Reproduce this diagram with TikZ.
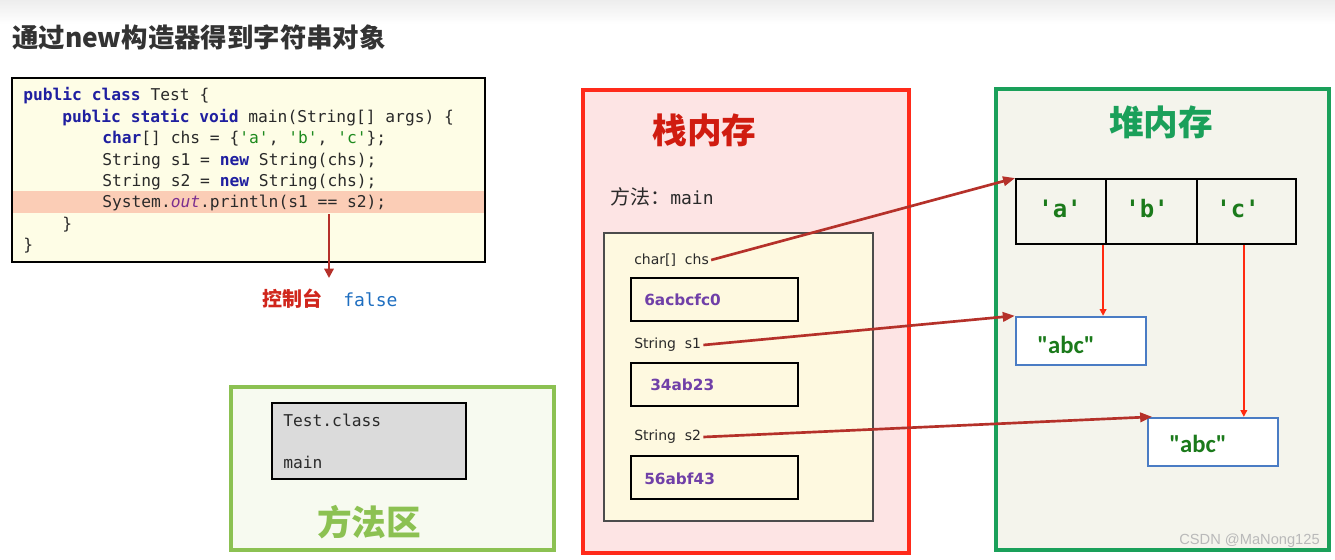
\documentclass[tikz,border=0pt]{standalone}
\usepackage{fontspec}
\setmainfont{DejaVu Sans}
\newfontfamily\cjk{Noto Sans CJK SC}
\newfontfamily\codefont{DejaVu Sans Mono}[Ligatures=TeXOff]
\newfontfamily\carlito{Carlito}[Ligatures=TeXOff]
\newfontfamily\wmfont{Liberation Sans}
\usetikzlibrary{arrows.meta}
\definecolor{titlegray}{HTML}{333333}
\definecolor{codebg}{HTML}{FEFDE6}
\definecolor{hlcol}{HTML}{FBCDB6}
\definecolor{kwblue}{HTML}{1F1FA0}
\definecolor{chgreen}{HTML}{1E8A1E}
\definecolor{outpurple}{HTML}{7B2F8F}
\definecolor{codetext}{HTML}{2A2A2A}
\definecolor{arrowred}{HTML}{B5312A}
\definecolor{consred}{HTML}{D0261C}
\definecolor{falseblue}{HTML}{1E6EC0}
\definecolor{methodgreen}{HTML}{8CC152}
\definecolor{methodbg}{HTML}{F7FAF0}
\definecolor{stackred}{HTML}{FF2A1A}
\definecolor{stackbg}{HTML}{FDE4E4}
\definecolor{stacktitle}{HTML}{D01C10}
\definecolor{framebg}{HTML}{FEF9E0}
\definecolor{addrpurple}{HTML}{7040A8}
\definecolor{heapgreen}{HTML}{1AA05A}
\definecolor{heapbg}{HTML}{F4F4EC}
\definecolor{valgreen}{HTML}{1B7A1B}
\definecolor{objblue}{HTML}{4A7CC4}
\definecolor{thinred}{HTML}{FF2A10}
\newcommand{\kw}[1]{\textcolor{kwblue}{\bfseries #1}}
\newcommand{\chq}[1]{\textcolor{chgreen}{#1}}
\tikzset{
  pxbox/.style 2 args={minimum width=#1*0.75pt, minimum height=#2*0.75pt, inner sep=0pt},
  codeline/.style={anchor=base west, inner sep=0pt, text=codetext, font=\codefont\fontsize{12.2}{15}\selectfont},
  bigcjk/.style={font=\cjk\bfseries\fontsize{26}{30}\selectfont, inner sep=0pt},
  stacklabel/.style={anchor=west, inner sep=1.5pt, text=codetext, font=\fontsize{10.5}{13}\selectfont},
  addrbox/.style={pxbox={167}{43}, draw=black, line width=1.4pt, fill=framebg},
  addrtext/.style={anchor=west, inner sep=0pt, text=addrpurple, font=\bfseries\fontsize{11.5}{14}\selectfont},
  cell/.style={draw=black, line width=1.4pt, fill=heapbg},
  celltext/.style={inner sep=0pt, text=valgreen, font=\codefont\bfseries\fontsize{18}{21}\selectfont},
  objbox/.style={pxbox={130}{48}, draw=objblue, line width=1.8pt, fill=white},
  objtext/.style={inner sep=0pt, text=valgreen, font=\carlito\bfseries\fontsize{18.5}{22}\selectfont},
  refarrow/.style={draw=arrowred, line width=2pt, -{Triangle[length=9pt,width=7pt]}},
  thinarrow/.style={draw=thinred, line width=1.1pt, -{Triangle[length=5pt,width=5pt]}},
}
\begin{document}
\begin{tikzpicture}[x=0.75pt,y=-0.75pt]
\useasboundingbox (0,0) rectangle (1335,560);
\fill[top color=gray!14,bottom color=white] (0,0) rectangle (1335,24);

% title
\node[anchor=west, inner sep=0pt, text=titlegray, font=\cjk\bfseries\fontsize{19.8}{23}\selectfont] (title) at (12,37) {通过new构造器得到字符串对象};

% code box
\node[pxbox={473}{184}, draw=black, line width=0.9pt, fill=codebg] (code) at (248.5,170) {};
\node[pxbox={471}{22}, fill=hlcol] (hl) at (248.5,202) {};
\node[codeline] (l1) at (23,101) {\kw{public} \kw{class} Test \{};
\node[codeline] (l2) at (62,122.3) {\kw{public} \kw{static} \kw{void} main(String[] args) \{};
\node[codeline] (l3) at (102,143.6) {\kw{char}[] chs = \{\chq{'a'}, \chq{'b'}, \chq{'c'}\};};
\node[codeline] (l4) at (102,165) {String s1 = \kw{new} String(chs);};
\node[codeline] (l5) at (102,186.3) {String s2 = \kw{new} String(chs);};
\node[codeline] (l6) at (102,207.6) {System.\textcolor{outpurple}{\itshape out}.println(s1 == s2);};
\node[codeline] (l7) at (62,229) {\}};
\node[codeline] (l8) at (23,250) {\}};

% console
\coordinate (cstart) at (329,214);
\coordinate (cend) at (329,278);
\draw[draw=arrowred, line width=1.6pt, -{Triangle[length=7pt,width=7pt]}] (cstart) -- (cend);
\node[inner sep=0pt, text=consred, font=\cjk\bfseries\fontsize{15}{18}\selectfont] (con) at (292,299) {控制台};
\node[anchor=west, inner sep=0pt, text=falseblue, font=\codefont\fontsize{13.5}{16}\selectfont] (false) at (343,300) {false};

% method area
\node[pxbox={323}{163}, draw=methodgreen, line width=2.6pt, fill=methodbg] (marea) at (392.5,468.5) {};
\node[pxbox={194}{76}, draw=black, line width=0.8pt, fill=gray!28] (tclass) at (369,441) {};
\node[anchor=west, inner sep=0pt, text=codetext, font=\codefont\fontsize{12.2}{15}\selectfont] (tcname) at (283,420) {Test.class};
\node[anchor=west, inner sep=0pt, text=codetext, font=\codefont\fontsize{12.2}{15}\selectfont] (tcmain) at (283,462) {main};
\node[bigcjk, text=methodgreen] (mtitle) at (369,522) {方法区};

% stack
\node[pxbox={326}{463}, draw=stackred, line width=2.6pt, fill=stackbg] (stack) at (746,321.5) {};
\node[bigcjk, text=stacktitle] (stitle) at (704.5,130) {栈内存};
\node[anchor=west, inner sep=0pt, text=codetext] (meth) at (610,197) {{\cjk\fontsize{15}{18}\selectfont 方法：}{\codefont\fontsize{13.5}{16}\selectfont main}};
\node[pxbox={269}{288}, draw=black!70, line width=0.8pt, fill=framebg] (frame) at (738.5,377) {};
\node[stacklabel] (chs) at (632,260) {char[]~ chs};
\node[addrbox] (a1) at (714.5,299.5) {};
\node[addrtext] (a1t) at (644,300) {6acbcfc0};
\node[stacklabel] (s1) at (632,345) {String~ s1};
\node[addrbox] (a2) at (714.5,384.5) {};
\node[addrtext] (a2t) at (650,385) {34ab23};
\node[stacklabel] (s2) at (632,437) {String~ s2};
\node[addrbox] (a3) at (714.5,477.5) {};
\node[addrtext] (a3t) at (644,479) {56abf43};

% heap
\node[pxbox={333}{461}, draw=heapgreen, line width=2.4pt, fill=heapbg] (heap) at (1162.5,319.5) {};
\node[bigcjk, text=heapgreen] (htitle) at (1161,122) {堆内存};
\node[cell, pxbox={90}{65}] (ca) at (1061,211.5) {};
\node[cell, pxbox={91}{65}] (cb) at (1151.5,211.5) {};
\node[cell, pxbox={99}{65}] (cc) at (1246.5,211.5) {};
\node[celltext] (cat) at (1060,209) {'a'};
\node[celltext] (cbt) at (1147,209) {'b'};
\node[celltext] (cct) at (1238,209) {'c'};
\node[objbox] (o1) at (1081,341) {};
\node[objtext] (o1t) at (1066,345) {"abc"};
\node[objbox] (o2) at (1213,442) {};
\node[objtext] (o2t) at (1198,444) {"abc"};

% references
\draw[refarrow] (chs.east) -- (ca.north west);
\draw[refarrow] (s1.east) -- (o1.north west);
\draw[refarrow] (s2.east) -- ([xshift=4pt]o2.north west);
\draw[thinarrow] ([xshift=-1.5pt]cb.south west) -- ([xshift=-1.5pt]cb.south west |- o1.north);
\draw[thinarrow] ([xshift=-2pt]cc.south) -- ([xshift=-2pt]cc.south |- o2.north);

% watermark
\node[anchor=east, inner sep=0pt, text=gray!55, font=\wmfont\fontsize{11}{13}\selectfont] (wm) at (1320,541) {CSDN @MaNong125};
\end{tikzpicture}
\end{document}
